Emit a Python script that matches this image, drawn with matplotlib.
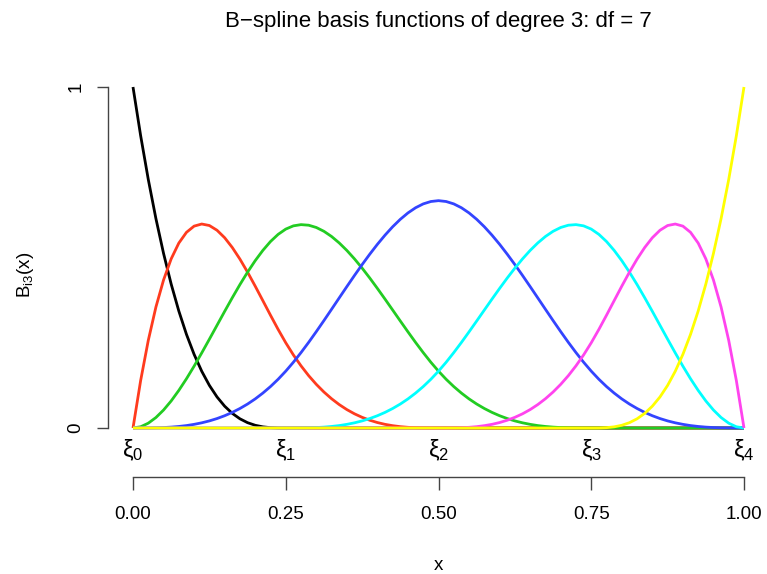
import numpy as np
import matplotlib
matplotlib.use("Agg")
import matplotlib.pyplot as plt
from matplotlib.transforms import blended_transform_factory

plt.rcParams['font.family'] = ['Liberation Sans', 'DejaVu Sans']
plt.rcParams['mathtext.fontset'] = 'custom'
plt.rcParams['mathtext.rm'] = 'Liberation Sans'
plt.rcParams['mathtext.it'] = 'Liberation Sans'

# sample positions along x (81 evenly spaced points on [0, 1])
x = np.linspace(0, 1, 81)

# basis values, one list per curve
b1 = [1.0, 0.8574, 0.729, 0.6141, 0.512, 0.4219, 0.343, 0.2746, 0.216, 0.1664,
      0.125, 0.0911, 0.064, 0.0429, 0.027, 0.0156, 0.008, 0.0034, 0.001, 0.0001,
      0] + [0] * 60
b2 = [0, 0.139, 0.2568, 0.3547, 0.434, 0.4961, 0.5423, 0.5738, 0.592, 0.5982,
      0.5938, 0.5799, 0.558, 0.5293, 0.4953, 0.457, 0.416, 0.3735, 0.3308, 0.2892,
      0.25, 0.2143, 0.1823, 0.1535, 0.128, 0.1055, 0.0858, 0.0687, 0.054, 0.0416,
      0.0313, 0.0228, 0.016, 0.0107, 0.0068, 0.0039, 0.002, 0.0008, 0.0003, 0,
      0] + [0] * 40
b3 = [0, 0.0036, 0.0141, 0.0307, 0.0527, 0.0794, 0.1103, 0.1444, 0.1813, 0.2202,
      0.2604, 0.3012, 0.342, 0.382, 0.4206, 0.457, 0.4907, 0.5208, 0.5468, 0.5678,
      0.5833, 0.5928, 0.5964, 0.5947, 0.588, 0.5768, 0.5616, 0.5427, 0.5207, 0.4959,
      0.4688, 0.4398, 0.4093, 0.3779, 0.3459, 0.3138, 0.282, 0.2509, 0.2211, 0.1928,
      0.1667, 0.1429, 0.1215, 0.1024, 0.0853, 0.0703, 0.0572, 0.0458, 0.036, 0.0277,
      0.0208, 0.0152, 0.0107, 0.0071, 0.0045, 0.0026, 0.0013, 0.0006, 0.0002, 0,
      0] + [0] * 20
b4 = [0, 0, 0.0002, 0.0006, 0.0013, 0.0026, 0.0045, 0.0071, 0.0107, 0.0152,
      0.0208, 0.0277, 0.036, 0.0458, 0.0572, 0.0703, 0.0853, 0.1024, 0.1215, 0.1429,
      0.1667, 0.1929, 0.2212, 0.2512, 0.2827, 0.3151, 0.3482, 0.3815, 0.4147, 0.4474,
      0.4792, 0.5097, 0.5387, 0.5656, 0.5902, 0.612, 0.6307, 0.6459, 0.6572, 0.6642,
      0.6667,
      0.6642, 0.6572, 0.6459, 0.6307, 0.612, 0.5902, 0.5656, 0.5387, 0.5097, 0.4792,
      0.4474, 0.4147, 0.3815, 0.3482, 0.3151, 0.2827, 0.2512, 0.2212, 0.1929, 0.1667,
      0.1429, 0.1215, 0.1024, 0.0853, 0.0703, 0.0572, 0.0458, 0.036, 0.0277, 0.0208,
      0.0152, 0.0107, 0.0071, 0.0045, 0.0026, 0.0013, 0.0006, 0.0002, 0, 0]
b5 = [0] * 20 + [
      0, 0, 0.0002, 0.0006, 0.0013, 0.0026, 0.0045, 0.0071, 0.0107, 0.0152,
      0.0208, 0.0277, 0.036, 0.0458, 0.0572, 0.0703, 0.0853, 0.1024, 0.1215, 0.1429,
      0.1667, 0.1928, 0.2211, 0.2509, 0.282, 0.3138, 0.3459, 0.3779, 0.4093, 0.4398,
      0.4688, 0.4959, 0.5207, 0.5427, 0.5616, 0.5768, 0.588, 0.5947, 0.5964, 0.5928,
      0.5833, 0.5678, 0.5468, 0.5208, 0.4907, 0.457, 0.4206, 0.382, 0.342, 0.3012,
      0.2604, 0.2202, 0.1813, 0.1444, 0.1103, 0.0794, 0.0527, 0.0307, 0.0141, 0.0036,
      0]
b6 = [0] * 40 + [
      0, 0, 0.0003, 0.0008, 0.002, 0.0039, 0.0068, 0.0107, 0.016, 0.0228,
      0.0313, 0.0416, 0.054, 0.0687, 0.0858, 0.1055, 0.128, 0.1535, 0.1823, 0.2143,
      0.25, 0.2892, 0.3308, 0.3735, 0.416, 0.457, 0.4953, 0.5293, 0.558, 0.5799,
      0.5938, 0.5982, 0.592, 0.5738, 0.5423, 0.4961, 0.434, 0.3547, 0.2568, 0.139,
      0]
b7 = [0] * 60 + [
      0, 0.0001, 0.001, 0.0034, 0.008, 0.0156, 0.027, 0.0429, 0.064, 0.0911,
      0.125, 0.1664, 0.216, 0.2746, 0.343, 0.4219, 0.512, 0.6141, 0.729, 0.8574,
      1.0]

curves = [b1, b2, b3, b4, b5, b6, b7]
colors = ['black', '#FF3B1E', '#22CC22', '#3344FF', '#00FFFF', '#FF44EE', '#FFFF00']

knots = [0.0, 0.25, 0.5, 0.75, 1.0]
knot_labels = [r'$\xi_0$', r'$\xi_1$', r'$\xi_2$', r'$\xi_3$', r'$\xi_4$']
xticks = [0.0, 0.25, 0.5, 0.75, 1.0]
xtick_labels = ['0.00', '0.25', '0.50', '0.75', '1.00']
yticks = [0, 1]

W, H = 767, 574
fig = plt.figure(figsize=(W / 100, H / 100), dpi=100)
ax = fig.add_axes([133 / W, (H - 428) / H, (744 - 133) / W, (428 - 87) / H])
ax.set_xlim(0, 1)
ax.set_ylim(0, 1)

for y, c in zip(curves, colors):
    ax.plot(x, y, color=c, lw=2.0, clip_on=False, solid_capstyle='butt')

for s in ['top', 'right']:
    ax.spines[s].set_visible(False)
axcol = '#444444'
ax.spines['left'].set_position(('outward', 18))
ax.spines['left'].set_bounds(0, 1)
ax.spines['bottom'].set_position(('outward', 35.3))
ax.spines['bottom'].set_bounds(0, 1)
for s in ['left', 'bottom']:
    ax.spines[s].set_color(axcol)
    ax.spines[s].set_linewidth(1.0)

ax.set_yticks(yticks)
ax.set_yticklabels(['0', '1'])
ax.tick_params(axis='y', length=8, width=1.0, color=axcol, pad=9,
               labelsize=13.5, labelrotation=90)
for lab in ax.get_yticklabels():
    lab.set_va('center')
ax.set_xticks(xticks)
ax.set_xticklabels(xtick_labels)
ax.tick_params(axis='x', length=9, width=1.0, color=axcol, pad=12, labelsize=13.5)

trans = blended_transform_factory(ax.transData, ax.transAxes)
for k, lab in zip(knots, knot_labels):
    ax.text(k, -0.066, lab, transform=trans, ha='center', va='center', fontsize=17)

fig.text(25 / W, 1 - 275 / H, r'B$_{\mathrm{i3}}$(x)', rotation=90,
         ha='center', va='center', fontsize=13.5)
fig.text(438 / W, 1 - 565 / H, 'x', ha='center', va='center', fontsize=13.5)
fig.text(438 / W, 1 - 21 / H, 'B\u2212spline basis functions of degree 3: df = 7',
         ha='center', va='center', fontsize=16)

fig.savefig('out.png', dpi=100)
